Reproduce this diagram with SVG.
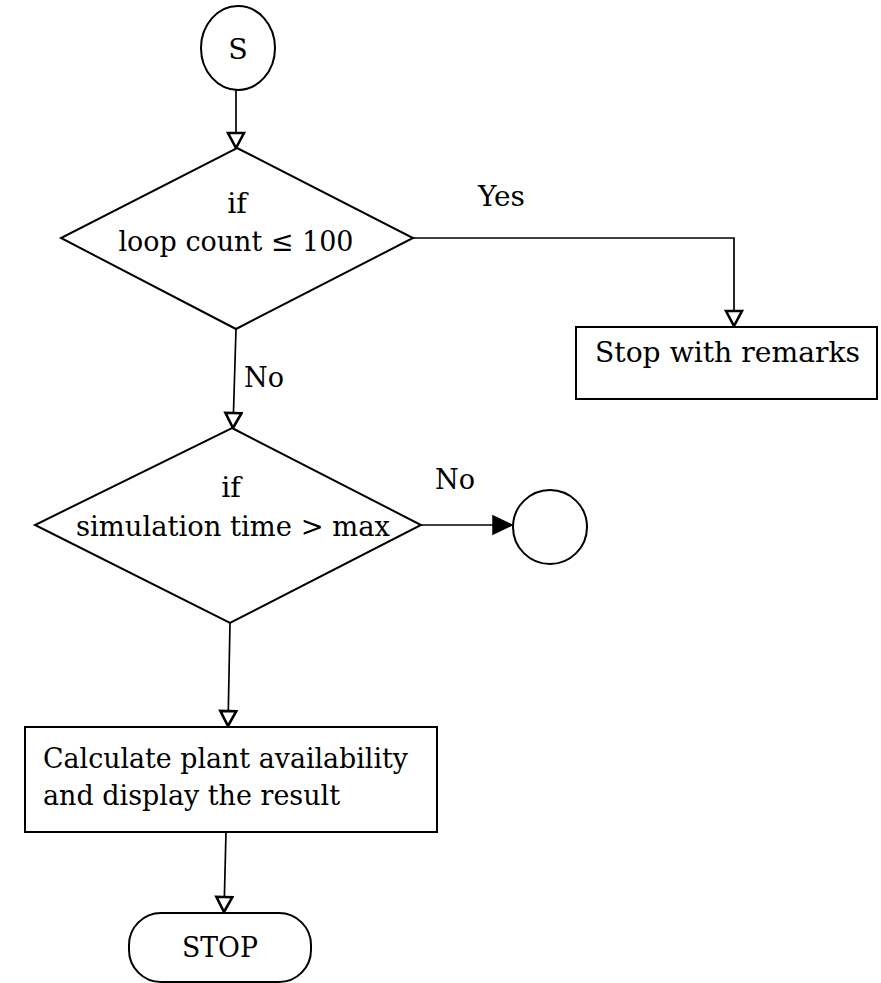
<svg xmlns="http://www.w3.org/2000/svg" width="881" height="983" viewBox="0 0 881 983">
<style>
.s{fill:none;stroke:#000;stroke-width:1.7}
.n{fill:#fff;stroke:#000;stroke-width:2}
.t{font-family:"DejaVu Serif","Liberation Serif",serif;font-size:28.5px;fill:#000}
.c{text-anchor:middle}
</style>
<defs>
<marker id="ho" markerWidth="20" markerHeight="20" viewBox="0 0 20 20" refX="17" refY="10" orient="auto" markerUnits="userSpaceOnUse">
<path d="M2,2 L17,10 L2,18 Z" fill="#fff" stroke="#000" stroke-width="2.6" stroke-linejoin="miter"/>
</marker>
<marker id="fi" markerWidth="22" markerHeight="22" viewBox="0 0 22 22" refX="20" refY="11" orient="auto" markerUnits="userSpaceOnUse">
<path d="M1,2 L20,11 L1,20 Z" fill="#000" stroke="#000" stroke-width="1.5"/>
</marker>
</defs>
<rect width="881" height="983" fill="#fff"/>
<g id="connectors">
<path class="s" d="M236,90 L236,148" marker-end="url(#ho)"/>
<path class="s" d="M413,238 L734,238 L734,326" marker-end="url(#ho)"/>
<path class="s" d="M236,329 L233,428" marker-end="url(#ho)"/>
<path class="s" d="M421,525 L512,525" marker-end="url(#fi)"/>
<path class="s" d="M230,623 L228,726" marker-end="url(#ho)"/>
<path class="s" d="M226,832 L224,912" marker-end="url(#ho)"/>
<text class="t" x="478" y="206" textLength="47" lengthAdjust="spacingAndGlyphs">Yes</text>
<text class="t" x="244" y="387" textLength="40" lengthAdjust="spacingAndGlyphs">No</text>
<text class="t" x="435" y="489" textLength="40" lengthAdjust="spacingAndGlyphs">No</text>
</g>
<g id="start">
<ellipse class="n" cx="238" cy="48" rx="37" ry="42"/>
<text class="t c" x="238" y="59">S</text>
</g>
<g id="decision1">
<path class="n" d="M237,148 L413,238 L236,329 L61,238 Z"/>
<text class="t c" x="237" y="213">if</text>
<text class="t c" x="236" y="251" textLength="235" lengthAdjust="spacingAndGlyphs">loop count ≤ 100</text>
</g>
<g id="stopremarks">
<rect class="n" x="576" y="327" width="301" height="72"/>
<text class="t" x="595" y="362" textLength="265" lengthAdjust="spacingAndGlyphs">Stop with remarks</text>
</g>
<g id="decision2">
<path class="n" d="M232,428 L421,525 L230,623 L35,525 Z"/>
<text class="t c" x="231" y="497">if</text>
<text class="t c" x="233" y="536" textLength="314" lengthAdjust="spacingAndGlyphs">simulation time &gt; max</text>
</g>
<g id="connector-circle">
<ellipse class="n" cx="550" cy="527" rx="37" ry="37"/>
</g>
<g id="calc">
<rect class="n" x="25" y="727" width="412" height="105"/>
<text class="t" x="43" y="768" textLength="365" lengthAdjust="spacingAndGlyphs">Calculate plant availability</text>
<text class="t" x="43" y="805" textLength="297" lengthAdjust="spacingAndGlyphs">and display the result</text>
</g>
<g id="stop">
<rect class="n" x="129" y="913" width="182" height="69" rx="32" ry="32"/>
<text class="t c" x="220" y="957" textLength="76" lengthAdjust="spacingAndGlyphs">STOP</text>
</g>
</svg>
